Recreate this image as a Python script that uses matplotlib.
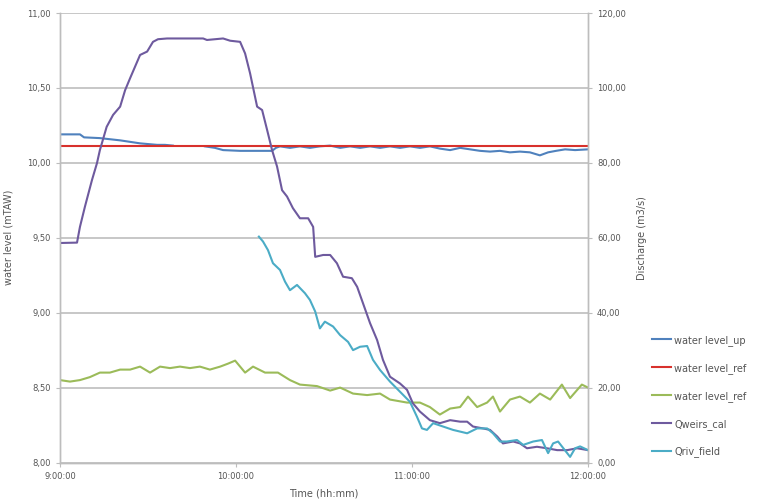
import matplotlib
matplotlib.use('Agg')
import matplotlib.pyplot as plt
import numpy as np

# time in minutes after 9:00:00
t_up = [0, 6.8, 8.2, 13.6, 20.5, 27.3, 33.1, 35.8, 38.5, 40, 49, 49.4, 52.8, 55.6, 61.4, 68.2, 72.3,
        73.6, 75, 78.4, 81.8, 85.2, 88.6, 92.1, 95.5, 98.9, 102.3, 105.7, 109.1, 112.5, 115.9,
        119.3, 122.7, 126.1, 129.5, 133, 136.4, 139.8, 143.2, 146.6, 150, 153.4, 156.8, 160.2,
        163.6, 166.4, 169.1, 172.2, 175.6, 180]
wl_up = [10.19, 10.19, 10.17, 10.165, 10.15, 10.13, 10.12, 10.12, 10.115, np.nan, np.nan, 10.11, 10.10,
         10.085, 10.08, 10.08, 10.08, 10.10, 10.11, 10.10, 10.11, 10.10, 10.11, 10.115, 10.10,
         10.11, 10.10, 10.11, 10.10, 10.11, 10.10, 10.11, 10.10, 10.11, 10.095, 10.085, 10.10,
         10.09, 10.08, 10.075, 10.08, 10.07, 10.075, 10.07, 10.05, 10.07, 10.08, 10.09, 10.085,
         10.09]

t_ref = [0, 180]
wl_ref = [10.11, 10.11]

t_ref2 = [0, 3.4, 6.8, 10.2, 13.6, 17, 20.5, 23.9, 27.3, 30.7, 34.1, 37.5, 40.9, 44.3, 47.7, 51.1,
          54.6, 57.3, 59.7, 63.1, 65.8, 69.9, 74.3, 78.4, 81.8, 87.6, 92.1, 95.5, 99.9, 104.7,
          109.1, 112.5, 118.3, 122.7, 126.1, 129.5, 133, 136.4, 139.1, 142.2, 145.6, 147.6, 150,
          153.4, 156.8, 160.2, 163.6, 167.1, 171.1, 173.9, 177.9, 180]
wl_ref2 = [8.55, 8.54, 8.55, 8.57, 8.60, 8.60, 8.62, 8.62, 8.64, 8.60, 8.64, 8.63, 8.64, 8.63,
           8.64, 8.62, 8.64, 8.66, 8.68, 8.60, 8.64, 8.60, 8.60, 8.55, 8.52, 8.51, 8.48, 8.50,
           8.46, 8.45, 8.46, 8.42, 8.40, 8.40, 8.37, 8.32, 8.36, 8.37, 8.44, 8.37, 8.40, 8.44,
           8.34, 8.42, 8.44, 8.40, 8.46, 8.42, 8.52, 8.43, 8.52, 8.50]

t_weir = [0, 5.8, 6.8, 8.5, 10.9, 12.6, 13.6, 15.9, 18.1, 20.5, 22.2, 23.9, 25.6, 27.3, 29.7,
          31.7, 33.4, 36.5, 42.6, 48.8, 50.1, 55.6, 58, 61.4, 63.1, 64.8, 67.2, 68.9, 70.6, 72.3,
          74, 75.7, 77.4, 79.4, 81.8, 84.6, 86.3, 87, 89.7, 92.1, 94.4, 96.5, 99.5, 101.3, 103.3,
          105.7, 108.1, 110.1, 112.5, 115.9, 118.3, 120.3, 122.7, 126.1, 129.5, 133, 136.4,
          138.8, 140.8, 144.2, 146.6, 149.1, 151, 154.5, 156.8, 159.2, 162.6, 166, 169.5, 172.9,
          176.3, 180]
q_weir = [58.6, 58.7, 62.9, 68.3, 75.4, 79.9, 83.4, 89.6, 92.8, 95.0, 99.4, 102.6, 105.7, 108.8,
          109.7, 112.3, 113.0, 113.2, 113.2, 113.2, 112.8, 113.2, 112.6, 112.3, 109.2, 103.9,
          95.0, 94.1, 88.8, 83.4, 79.0, 72.7, 71.0, 67.9, 65.2, 65.2, 62.9, 54.9, 55.4, 55.4,
          53.2, 49.6, 49.2, 46.9, 42.5, 37.2, 32.7, 27.4, 22.9, 21.1, 19.4, 15.8, 13.6, 11.3,
          10.5, 11.3, 10.9, 10.9, 9.6, 9.1, 8.7, 6.9, 5.1, 5.6, 5.1, 3.8, 4.2, 3.8, 3.3, 3.3,
          3.8, 3.3]

t_field = [67.8, 69.2, 70.9, 72.6, 75, 76.7, 78.4, 80.8, 83.5, 85.2, 87, 88.6, 90.3, 93.1, 95.5,
           98.2, 99.9, 102.3, 104.7, 106.7, 109.1, 112.5, 115.9, 119.3, 121.7, 123.4, 125.1,
           127.2, 130.6, 134, 138.8, 142.2, 145.6, 147.6, 150, 152.3, 155.8, 157.9, 161.3,
           164.3, 166.4, 168.1, 169.8, 172.9, 173.9, 175.6, 177.3, 180]
q_field = [60.3, 59.0, 56.7, 53.2, 51.4, 48.3, 46.0, 47.4, 45.2, 43.4, 40.3, 35.8, 37.6, 36.3,
           34.0, 32.2, 30.0, 30.9, 31.1, 27.4, 24.7, 21.6, 18.9, 16.2, 12.2, 9.1, 8.7, 10.5,
           9.6, 8.7, 7.8, 9.1, 9.1, 7.8, 5.6, 5.6, 6.0, 4.7, 5.6, 6.0, 2.5, 5.1, 5.6, 2.5, 1.5,
           3.8, 4.3, 3.3]

x_ticks = [0, 60, 120, 180]
x_labels = ['9:00:00', '10:00:00', '11:00:00', '12:00:00']
left_ticks = [8.0, 8.5, 9.0, 9.5, 10.0, 10.5, 11.0]
right_ticks = [0, 20, 40, 60, 80, 100, 120]

plt.rcParams['font.family'] = ['DejaVu Sans']
txt = '#555555'
grey = '#bdbdbd'

fig = plt.figure(figsize=(7.58, 5.03), dpi=100)
ax = fig.add_axes([60 / 758, 40.5 / 503, 528 / 758, 449.5 / 503])
ax2 = ax.twinx()

lw = 1.5
l1, = ax.plot(t_up, wl_up, color='#4f81bd', lw=lw, label='water level_up')
l2, = ax.plot(t_ref, wl_ref, color='#d8312c', lw=lw, label='water level_ref')
l3, = ax.plot(t_ref2, wl_ref2, color='#9bbb59', lw=lw, label='water level_ref')
l4, = ax2.plot(t_weir, q_weir, color='#6e5a9e', lw=lw, label='Qweirs_cal')
l5, = ax2.plot(t_field, q_field, color='#4bacc6', lw=lw, label='Qriv_field')

ax.set_xlim(0, 180)
ax.set_ylim(8, 11)
ax2.set_ylim(0, 120)
ax.set_xticks(x_ticks)
ax.set_xticklabels(x_labels)
ax.set_yticks(left_ticks)
ax.set_yticklabels([f'{v:.2f}'.replace('.', ',') for v in left_ticks])
ax2.set_yticks(right_ticks)
ax2.set_yticklabels([f'{v:.2f}'.replace('.', ',') for v in right_ticks])

ax.grid(axis='y', color=grey, lw=1.2)
ax.set_axisbelow(True)
for a in (ax, ax2):
    a.spines['top'].set_visible(False)
    for s in ('left', 'bottom', 'right'):
        a.spines[s].set_color(grey)
        a.spines[s].set_linewidth(1.0)
    a.tick_params(labelsize=6, colors=txt, length=3, width=0.8)
    a.tick_params(color=grey)

ax.set_xlabel('Time (hh:mm)', fontsize=7, color=txt, labelpad=6)
ax.set_ylabel('water level (mTAW)', fontsize=7, color=txt, labelpad=10)
ax2.set_ylabel('Discharge (m3/s)', fontsize=7, color=txt, labelpad=8)

fig.legend(handles=[l1, l2, l3, l4, l5], loc='upper left', bbox_to_anchor=(648 / 758, 1 - 331 / 503),
           frameon=False, fontsize=7, labelcolor=txt, handlelength=2.0, handletextpad=0.3,
           labelspacing=1.75, borderaxespad=0)

fig.savefig('out.png', dpi=100)
